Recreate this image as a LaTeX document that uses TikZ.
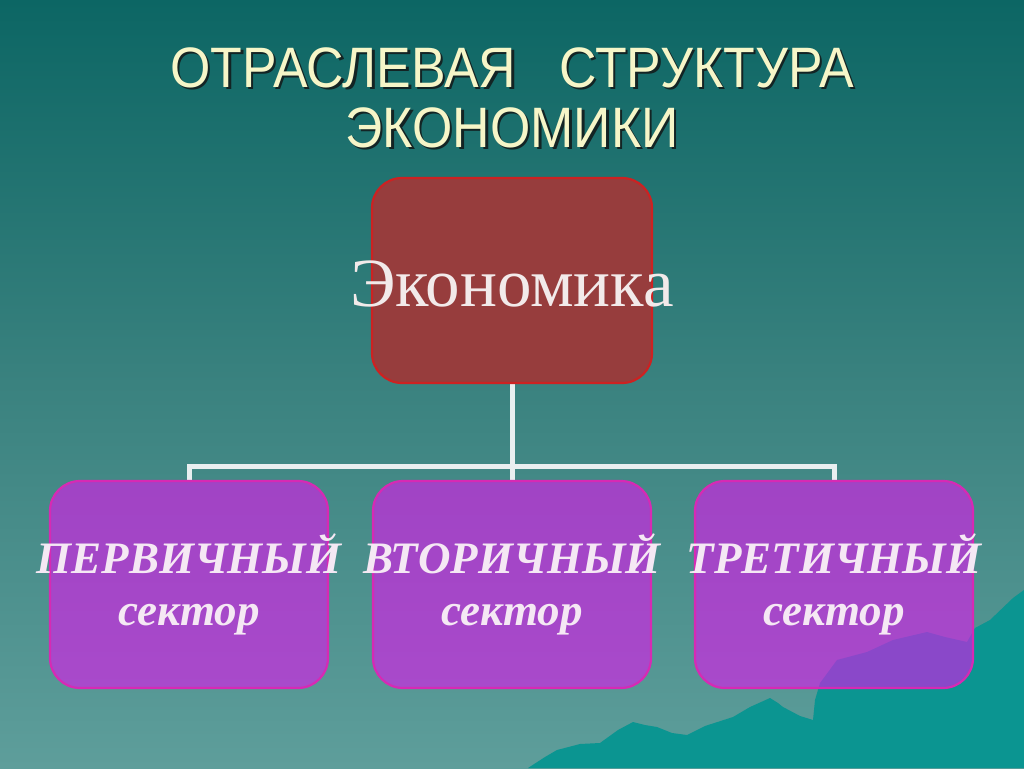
\documentclass[tikz,border=0pt]{standalone}
\usepackage{fontspec}
\setmainfont{Liberation Serif}
\newfontfamily\titlefont[FakeStretch=0.91]{Liberation Sans}
\pgfdeclarelayer{bgl}
\pgfdeclarelayer{connl}
\pgfsetlayers{bgl,connl,main}
\definecolor{bgtop}{HTML}{0C6664}
\definecolor{bgmid}{HTML}{3A827F}
\definecolor{bgbot}{HTML}{5E9E9B}
\definecolor{mount}{HTML}{0B9591}
\definecolor{titlecol}{HTML}{F6F6C8}
\definecolor{shadowcol}{HTML}{132424}
\definecolor{redfill}{HTML}{973D3D}
\definecolor{redline}{HTML}{CC2222}
\definecolor{purfill}{HTML}{E016EF}
\definecolor{purline}{HTML}{D62AB4}
\definecolor{textpink}{HTML}{F5E8F4}
\definecolor{textwhite}{HTML}{F2EAEA}
\definecolor{conncol}{HTML}{E9EFF0}
\newcommand\shadowed[1]{\makebox[0pt][l]{\raisebox{-2.5pt}{\hspace{2.5pt}\textcolor{shadowcol}{#1}}}#1}
\tikzset{
  topbox/.style={draw=redline, line width=2.2pt, fill=redfill, rounded corners=30pt,
    minimum width=280pt, minimum height=205pt, inner sep=0pt},
  secbox/.style={draw=purline, line width=2.2pt, fill=purfill, fill opacity=0.6, draw opacity=1,
    rounded corners=30pt, minimum width=278pt, minimum height=207pt, inner sep=0pt},
  toptext/.style={text=textwhite, font=\fontsize{69}{72}\selectfont, inner sep=0pt, yshift=-3pt},
  sectext/.style={text=textpink, align=center, text opacity=1, font=\fontsize{45}{52}\selectfont\bfseries\itshape, inner sep=0pt},
  titletext/.style={text=titlecol, align=center, font=\titlefont\fontsize{57}{60}\selectfont, inner sep=0pt},
  conn/.style={draw=conncol, line width=5pt}
}
\begin{document}
\begin{tikzpicture}[x=1pt,y=-1pt]
\useasboundingbox (0,0) rectangle (1024,768);
\begin{pgfonlayer}{bgl}
  \shade[top color=bgtop, bottom color=bgbot, middle color=bgmid] (0,0) rectangle (1024,768);
  \fill[mount] (528,768) -- (545,757) -- (557,750) -- (580,744) -- (600,743) -- (618,730) -- (633,722)
    -- (645,725) -- (657,727) -- (672,733) -- (687,735) -- (705,726) -- (733,717) -- (750,707)
    -- (770,698) -- (778,703) -- (783,707) -- (800,716) -- (813,720) -- (815,700) -- (820,683)
    -- (837,660) -- (852,656) -- (867,652) -- (880,646) -- (893,640) -- (910,636) -- (927,632)
    -- (945,637) -- (967,642) -- (975,628) -- (990,620) -- (1013,598) -- (1024,590) -- (1024,768) -- cycle;
\end{pgfonlayer}
% title
\node[titletext] (t1) at (512,69) {\shadowed{ОТРАСЛЕВАЯ\ \ \ СТРУКТУРА}};
\node[titletext] (t2) at (512,129) {\shadowed{ЭКОНОМИКИ}};
% boxes
\node[topbox, label={[toptext]center:Экономика}] (eco) at (512,280.5) {};
\node[secbox, label={[sectext]center:ПЕРВИЧНЫЙ\\сектор}] (s1) at (189,584.5) {};
\node[secbox, label={[sectext]center:ВТОРИЧНЫЙ\\сектор}] (s2) at (512,584.5) {};
\node[secbox, label={[sectext]center:ТРЕТИЧНЫЙ\\сектор}] (s3) at (834,584.5) {};
\coordinate (hub) at (512,466);
\begin{pgfonlayer}{connl}
  \draw[conn] (eco.south) -- (hub);
  \draw[conn] (s1.north) -- (s1.north |- hub) -- (s3.north |- hub) -- (s3.north);
  \draw[conn] (hub) -- (s2.north);
\end{pgfonlayer}
\end{tikzpicture}
\end{document}
